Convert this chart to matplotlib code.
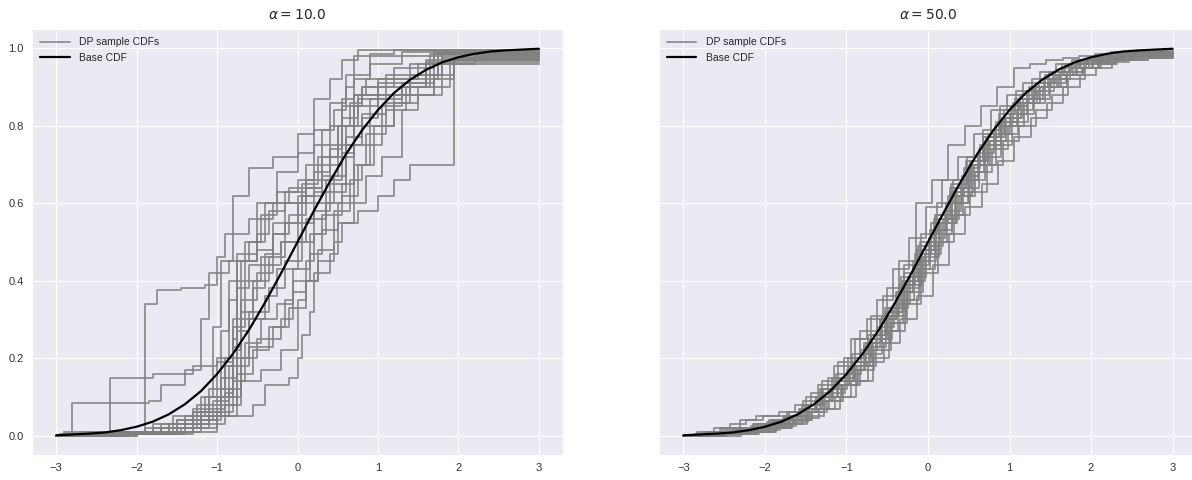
import matplotlib
matplotlib.use("Agg")
import matplotlib.pyplot as plt
import seaborn as sns

sns.set_style("darkgrid")
plt.rcParams['font.family'] = ['Liberation Sans', 'DejaVu Sans']

# grid shared by the base CDF and the alpha=50 samples
grid_x = [-3.0, -2.8, -2.6, -2.4, -2.2, -2.0, -1.8, -1.6, -1.4, -1.2, -1.0,
          -0.8, -0.6, -0.4, -0.2, 0.0, 0.2, 0.4, 0.6, 0.8, 1.0,
          1.2, 1.4, 1.6, 1.8, 2.0, 2.2, 2.4, 2.6, 2.8, 3.0]

base_cdf = [0.001, 0.003, 0.005, 0.008, 0.014, 0.023, 0.036, 0.055, 0.081, 0.115, 0.159,
            0.212, 0.274, 0.345, 0.421, 0.5, 0.579, 0.655, 0.726, 0.788, 0.841,
            0.885, 0.919, 0.945, 0.964, 0.977, 0.986, 0.992, 0.995, 0.997, 0.999]

# alpha = 10: jump locations and the level reached after each jump
low_alpha_jumps = [
    [-2.95, -1.9, -1.75, -1.45, -1.15, -1.0, -0.9, -0.6, -0.3, -0.1, 0.3, 0.55, 0.8, 1.2, 1.7],
    [-2.8, -1.85, -1.7, -1.4, -1.2, -1.1, -0.85, -0.6, -0.4, 0.1, 0.4, 0.7, 1.0, 1.6, 2.3],
    [-2.9, -2.33, -1.8, -1.3, -1.0, -0.8, -0.75, -0.5, -0.3, 0.0, 0.2, 0.6, 0.75, 1.1, 1.65],
    [-2.4, -1.6, -1.2, -1.05, -0.95, -0.8, -0.6, -0.3, 0.0, 0.2, 0.4, 0.55, 0.75],
    [-2.0, -1.3, -0.95, -0.8, -0.7, -0.5, -0.25, 0.0, 0.2, 0.4, 0.6, 0.9, 1.2],
    [-2.3, -1.5, -1.0, -0.75, -0.7, -0.5, -0.3, -0.1, 0.1, 0.3, 0.5, 0.7, 0.85, 1.4, 1.8],
    [-2.5, -1.7, -1.3, -0.9, -0.8, -0.7, -0.55, -0.4, -0.2, 0.05, 0.3, 0.5, 0.7, 1.0, 1.4, 1.75],
    [-2.6, -1.6, -1.0, -0.55, -0.4, -0.1, 0.0, 0.05, 0.15, 0.2, 0.4, 0.5, 0.75, 1.0, 1.2, 1.4, 1.95],
    [-2.2, -1.2, -0.85, -0.7, -0.5, -0.3, -0.1, 0.1, 0.25, 0.45, 0.65, 0.8, 0.9, 1.05, 1.3, 1.7, 1.95],
    [-2.7, -1.55, -1.15, -0.9, -0.75, -0.6, -0.35, -0.15, 0.05, 0.2, 0.4, 0.6, 0.8, 1.0, 1.3, 1.6, 1.8],
    [-2.1, -1.45, -1.0, -0.8, -0.65, -0.45, -0.25, -0.05, 0.15, 0.3, 0.5, 0.7, 0.85, 1.1, 1.35, 1.6, 2.2],
    [-2.4, -1.8, -1.1, -0.75, -0.7, -0.6, -0.4, -0.25, 0.0, 0.1, 0.35, 0.55, 0.7, 0.9, 1.3, 1.7],
    [-2.0, -1.5, -1.05, -0.85, -0.6, -0.3, -0.2, -0.05, 0.1, 0.2, 0.35, 0.55, 0.7, 0.9, 1.2, 1.5, 1.9],
    [-2.8, -1.7, -1.2, -0.95, -0.75, -0.6, -0.4, -0.2, 0.0, 0.2, 0.45, 0.6, 0.8, 1.1, 1.4, 1.75],
    [-2.5, -1.3, -0.9, -0.7, -0.45, -0.2, 0.0, 0.1, 0.25, 0.45, 0.55, 0.7, 0.85, 1.05, 1.3, 1.5, 1.8],
    [-2.6, -1.6, -1.1, -0.9, -0.8, -0.65, -0.45, -0.3, -0.15, 0.05, 0.25, 0.5, 0.65, 0.8, 1.1, 1.6],
    [-2.3, -1.7, -1.25, -1.0, -0.85, -0.75, -0.5, -0.35, -0.15, 0.1, 0.3, 0.45, 0.6, 0.7, 1.3],
    [-2.9, -1.9, -1.4, -0.95, -0.75, -0.55, -0.35, -0.15, -0.05, 0.15, 0.3, 0.55, 0.75, 0.95, 1.2, 1.7, 1.95],
    [-2.2, -1.4, -0.95, -0.8, -0.7, -0.55, -0.35, -0.15, 0.0, 0.2, 0.4, 0.55, 0.75, 1.0, 1.5, 1.8],
    [-2.7, -1.8, -1.3, -1.1, -0.95, -0.85, -0.65, -0.45, -0.25, 0.0, 0.2, 0.4, 0.55, 0.7, 0.9, 1.3],
]
low_alpha_levels = [
    [0.005, 0.34, 0.375, 0.38, 0.39, 0.46, 0.52, 0.56, 0.6, 0.64, 0.7, 0.85, 0.9, 0.95, 0.99],
    [0.085, 0.09, 0.13, 0.17, 0.3, 0.42, 0.45, 0.5, 0.6, 0.66, 0.75, 0.88, 0.91, 0.97, 0.98],
    [0.01, 0.15, 0.16, 0.18, 0.19, 0.25, 0.45, 0.48, 0.55, 0.6, 0.63, 0.8, 0.87, 0.9, 0.985],
    [0.01, 0.03, 0.1, 0.28, 0.45, 0.62, 0.69, 0.72, 0.78, 0.87, 0.92, 0.97, 0.995],
    [0.01, 0.06, 0.12, 0.3, 0.45, 0.6, 0.68, 0.73, 0.79, 0.86, 0.93, 0.985, 0.995],
    [0.005, 0.04, 0.08, 0.2, 0.35, 0.42, 0.52, 0.57, 0.64, 0.72, 0.8, 0.88, 0.92, 0.96, 0.975],
    [0.01, 0.03, 0.07, 0.11, 0.23, 0.3, 0.38, 0.44, 0.5, 0.62, 0.67, 0.72, 0.85, 0.88, 0.92, 0.985],
    [0.005, 0.01, 0.05, 0.08, 0.13, 0.15, 0.2, 0.26, 0.32, 0.42, 0.47, 0.55, 0.58, 0.62, 0.66, 0.7, 0.97],
    [0.01, 0.05, 0.12, 0.2, 0.25, 0.28, 0.33, 0.4, 0.48, 0.58, 0.66, 0.7, 0.75, 0.85, 0.88, 0.93, 0.975],
    [0.01, 0.05, 0.1, 0.2, 0.27, 0.32, 0.38, 0.45, 0.5, 0.58, 0.65, 0.77, 0.82, 0.88, 0.9, 0.93, 0.97],
    [0.005, 0.02, 0.06, 0.14, 0.24, 0.3, 0.34, 0.4, 0.47, 0.53, 0.6, 0.7, 0.78, 0.84, 0.9, 0.96, 0.98],
    [0.005, 0.02, 0.05, 0.1, 0.2, 0.3, 0.36, 0.43, 0.5, 0.56, 0.66, 0.73, 0.8, 0.87, 0.91, 0.985],
    [0.01, 0.04, 0.09, 0.18, 0.23, 0.25, 0.3, 0.37, 0.45, 0.52, 0.6, 0.65, 0.75, 0.8, 0.86, 0.9, 0.97],
    [0.005, 0.02, 0.06, 0.15, 0.38, 0.44, 0.47, 0.5, 0.55, 0.6, 0.67, 0.75, 0.83, 0.86, 0.93, 0.985],
    [0.005, 0.03, 0.08, 0.14, 0.17, 0.22, 0.35, 0.4, 0.45, 0.5, 0.55, 0.6, 0.67, 0.72, 0.84, 0.88, 0.96],
    [0.01, 0.03, 0.12, 0.18, 0.28, 0.4, 0.46, 0.52, 0.6, 0.65, 0.72, 0.8, 0.86, 0.9, 0.93, 0.965],
    [0.01, 0.02, 0.08, 0.2, 0.35, 0.47, 0.52, 0.58, 0.63, 0.7, 0.79, 0.84, 0.9, 0.98, 0.99],
    [0.005, 0.02, 0.05, 0.1, 0.16, 0.22, 0.28, 0.35, 0.43, 0.52, 0.57, 0.62, 0.7, 0.8, 0.88, 0.92, 0.975],
    [0.005, 0.04, 0.1, 0.22, 0.32, 0.4, 0.46, 0.55, 0.62, 0.68, 0.74, 0.82, 0.88, 0.92, 0.96, 0.99],
    [0.005, 0.03, 0.06, 0.1, 0.27, 0.4, 0.5, 0.57, 0.63, 0.66, 0.75, 0.8, 0.87, 0.92, 0.96, 0.98],
]

# alpha = 50: sample CDF values on grid_x, each sample's jumps offset along x
high_alpha_shift = [0.05, -0.08, 0.02, -0.04, 0.09, -0.1, 0.07, -0.02, 0.04,
                    -0.06, 0.1, -0.09, 0.01, 0.06, -0.03, 0.08, -0.07, 0.03]
high_alpha_cdfs = [
    [0, .01, .02, .02, .03, .04, .05, .08, .13, .18, .25, .3, .36, .45, .6, .66, .75, .8, .85, .9, .95, .96, .97, .975, .98, .985, .99, .99, .99, .99, .99],
    [0, 0, 0, .005, .01, .01, .02, .03, .05, .07, .1, .14, .2, .27, .34, .42, .5, .57, .63, .7, .76, .8, .84, .88, .92, .95, .96, .97, .98, .98, .98],
    [0, .005, .01, .01, .02, .03, .045, .07, .1, .15, .2, .24, .3, .37, .45, .53, .6, .67, .74, .8, .85, .89, .92, .94, .96, .97, .975, .98, .985, .985, .985],
    [0, 0, .005, .01, .01, .02, .03, .04, .06, .09, .13, .18, .25, .33, .4, .47, .55, .63, .7, .76, .82, .87, .91, .94, .96, .97, .98, .99, .99, .995, .995],
    [0, .01, .01, .04, .05, .05, .06, .08, .12, .14, .18, .23, .29, .35, .43, .52, .6, .68, .75, .8, .84, .88, .91, .93, .95, .965, .97, .975, .975, .98, .98],
    [0, 0, 0, 0, .005, .01, .02, .04, .07, .1, .14, .2, .26, .32, .38, .45, .53, .6, .66, .72, .78, .83, .87, .9, .93, .95, .96, .97, .97, .975, .975],
    [0, .005, .02, .02, .03, .04, .06, .09, .12, .16, .21, .26, .33, .41, .48, .56, .64, .71, .77, .83, .87, .9, .93, .95, .97, .98, .985, .99, .99, .99, .99],
    [0, 0, .005, .005, .01, .015, .025, .04, .07, .11, .16, .22, .28, .34, .41, .49, .56, .62, .68, .74, .8, .86, .9, .93, .95, .96, .97, .98, .98, .985, .985],
    [0, 0, .01, .01, .02, .025, .04, .06, .09, .13, .18, .24, .31, .39, .47, .55, .62, .69, .75, .81, .86, .9, .93, .96, .97, .975, .98, .98, .985, .99, .99],
    [0, .005, .005, .01, .015, .02, .03, .05, .07, .1, .13, .17, .22, .29, .37, .46, .55, .62, .7, .77, .82, .86, .89, .92, .95, .97, .98, .98, .985, .99, .99],
    [0, .01, .015, .02, .03, .04, .06, .1, .14, .19, .25, .31, .38, .44, .5, .57, .63, .7, .76, .81, .86, .9, .92, .94, .95, .96, .97, .97, .975, .975, .975],
    [0, 0, 0, .005, .01, .02, .035, .05, .08, .12, .15, .19, .25, .33, .42, .52, .6, .66, .71, .77, .82, .87, .9, .92, .94, .96, .975, .98, .985, .99, .99],
    [0, .005, .01, .015, .02, .03, .04, .06, .09, .12, .17, .23, .3, .37, .44, .51, .58, .66, .73, .78, .83, .87, .9, .93, .95, .965, .975, .98, .98, .98, .98],
    [0, 0, .005, .01, .015, .02, .03, .045, .07, .1, .14, .19, .24, .3, .36, .44, .52, .59, .65, .71, .77, .82, .86, .9, .93, .95, .965, .975, .98, .985, .985],
    [0, .01, .02, .03, .04, .05, .06, .08, .11, .15, .2, .27, .35, .43, .51, .59, .66, .72, .78, .84, .88, .91, .94, .96, .97, .975, .98, .985, .99, .99, .99],
    [0, 0, .005, .01, .02, .03, .05, .07, .1, .14, .19, .25, .32, .4, .49, .57, .65, .72, .79, .85, .89, .92, .94, .955, .965, .97, .975, .98, .98, .98, .98],
    [0, 0, 0, .005, .005, .01, .02, .035, .06, .09, .13, .18, .24, .31, .39, .48, .56, .64, .71, .78, .84, .88, .91, .94, .96, .97, .98, .985, .99, .99, .99],
    [0, .005, .01, .015, .025, .035, .05, .07, .1, .13, .17, .21, .27, .35, .43, .5, .57, .64, .7, .75, .81, .86, .9, .93, .95, .965, .975, .98, .985, .99, .99],
]

titles = [r'$\alpha = 10.0$', r'$\alpha = 50.0$']

fig = plt.figure(figsize=(11.92, 4.8), dpi=100)
ax1 = fig.add_axes([32 / 1192, 25 / 480, 531 / 1192, 426 / 480])
ax2 = fig.add_axes([659 / 1192, 25 / 480, 538 / 1192, 426 / 480], sharey=ax1)

sample_style = dict(color='gray', alpha=0.8, lw=1.4, drawstyle='steps-post')

# alpha = 10 panel
for i, (jx, lv) in enumerate(zip(low_alpha_jumps, low_alpha_levels)):
    xs = [-3.0] + jx + [3.0]
    ys = [0.0] + lv + [lv[-1]]
    ax1.plot(xs, ys, label='DP sample CDFs' if i == 0 else None, **sample_style)

# alpha = 50 panel
for i, (cdf, dx) in enumerate(zip(high_alpha_cdfs, high_alpha_shift)):
    xs = [-3.0] + [x + dx for x in grid_x[1:-1]] + [3.0]
    ax2.plot(xs, cdf, label='DP sample CDFs' if i == 0 else None, **sample_style)

for ax, title in zip([ax1, ax2], titles):
    ax.plot(grid_x, base_cdf, color='black', lw=1.6, label='Base CDF', zorder=5)
    ax.set_title(title, fontsize=10, pad=7)
    ax.set_xticks([-3, -2, -1, 0, 1, 2, 3])
    ax.set_yticks([0.0, 0.2, 0.4, 0.6, 0.8, 1.0])
    ax.tick_params(length=0, labelsize=8, pad=6, labelcolor='#333333')
    ax.legend(loc='upper left', frameon=False, fontsize=7.5, handlelength=2.8,
              handletextpad=0.9, labelspacing=0.55, borderaxespad=0.4)

ax2.tick_params(labelleft=False)
ax1.set_xlim(-3.3, 3.3)
ax2.set_xlim(-3.3, 3.3)
ax1.set_ylim(-0.05, 1.05)

fig.savefig('out.png', dpi=100)
